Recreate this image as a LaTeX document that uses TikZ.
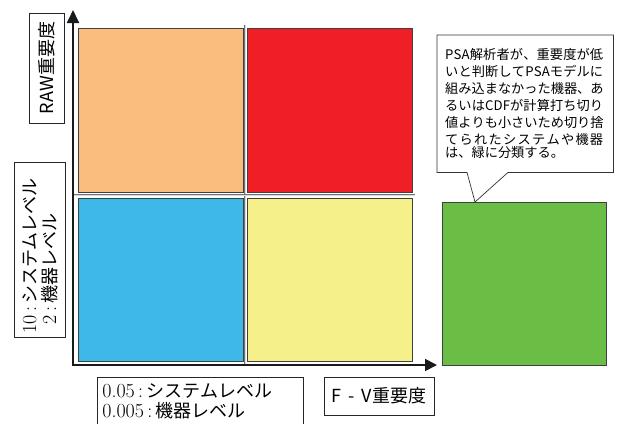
\documentclass[tikz,border=0pt]{standalone}
\usepackage{fontspec}
\newfontfamily\jp{Noto Sans CJK JP}
\newcommand\dignum[1]{{\rmfamily\fontsize{20}{20}\selectfont #1}}
\makeatletter
\newcommand\fullline[1]{\makebox[158pt][s]{\@tfor\my@ch:=#1\do{\my@ch\hfil}\unskip}}
\makeatother
\newcommand\notefont{\jp\fontsize{13.2}{17}\selectfont}
\usetikzlibrary{arrows.meta,calc}
\definecolor{qorange}{HTML}{FBBD7E}
\definecolor{qred}{HTML}{EE2025}
\definecolor{qblue}{HTML}{3DB8E8}
\definecolor{qyellow}{HTML}{F5F08A}
\definecolor{qgreen}{HTML}{6ABD45}
\tikzset{
  quad/.style={draw=black!75, line width=0.8pt, minimum width=165pt, minimum height=164pt, inner sep=0pt, anchor=north west},
  labelbox/.style={draw=black!85, line width=0.7pt, font=\jp\fontsize{18}{20}\selectfont, inner sep=0pt},
  axisline/.style={line width=1.8pt, black!90, line join=miter, {Triangle[length=13pt,width=12pt]}-{Triangle[length=12pt,width=12pt]}},
  sepline/.style={draw=black!55, double=black!15, double distance=0.8pt, line width=0.5pt},
  notetext/.style={align=left, text width=160pt, inner xsep=8pt, inner ysep=0pt, minimum width=176pt, minimum height=137pt, anchor=north west},
  noteline/.style={draw=black!80, line width=0.7pt, line join=miter}
}
\begin{document}
\begin{tikzpicture}[x=1pt,y=-1pt]
\path[use as bounding box, clip] (0,0) rectangle (618,423);

% separators
\draw[sepline] (245,25) -- (245,365);
\draw[sepline] (73,195) -- (415,195);

% quadrants
\node[quad, fill=qorange] (orange) at (78,28) {};
\node[quad, fill=qred] (red) at (247,28) {};
\node[quad, fill=qblue, minimum height=163pt] (blue) at (78,198) {};
\node[quad, fill=qyellow, minimum height=163pt] (yellow) at (247,198) {};
\node[quad, fill=qgreen, minimum width=164pt, minimum height=163pt] (green) at (442,202) {};

% axes
\coordinate (O) at (73,365);
\coordinate (ytip) at (73,10);
\coordinate (xtip) at (437,365);
\draw[axisline] (ytip) -- (O) -- (xtip);

% axis labels
\node[labelbox, rotate=90, minimum width=110pt, minimum height=35pt] (raw) at (46.5,68) {RAW重要度};
\node[labelbox, rotate=90, anchor=north west, align=left, text width=167pt, inner xsep=4pt, minimum height=51pt] (ylev) at (14,338)
  {\dignum{10\,:\,}システムレベル\\\dignum{\hphantom{1}2\,:\,}機器レベル};
\node[labelbox, anchor=north west, align=left, text width=196pt, inner xsep=5pt, inner ysep=6pt] (xlev) at (97,377)
  {\dignum{0.05\,:\,}システムレベル\\\dignum{0.005\,:\,}機器レベル};
\node[labelbox, minimum width=110pt, minimum height=38pt] (fv) at (379,396) {F\, -\, V重要度};

% callout
\node[notetext] (note) at (437,35)
  {\notefont\fullline{PSA解析者が、重要度が低}\\\fullline{いと判断してPSAモデルに}\\\fullline{組み込まなかった機器、あ}\\\fullline{るいはCDFが計算打ち切り}\\\fullline{値よりも小さいため切り捨}\\\fullline{てられたシステムや機器}\\は、緑に分類する。};
\draw[noteline] (note.north west) -- (note.north east) -- (note.south east)
  -- ($(note.south west)+(71,0)$) -- ($(green.north west)+(33,0)$)
  -- ($(note.south west)+(30,0)$) -- (note.south west) -- cycle;
\end{tikzpicture}
\end{document}
